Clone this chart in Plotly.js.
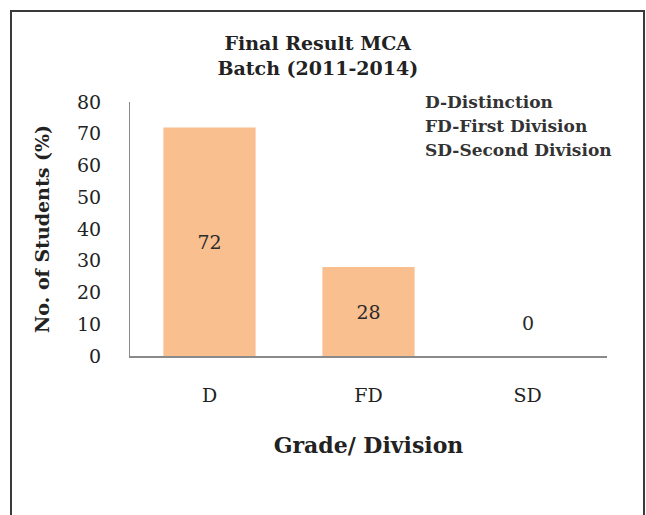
<!DOCTYPE html>
<html><head><meta charset="utf-8">
<script src="https://cdn.plot.ly/plotly-3.0.1.min.js"></script>
<style>
html,body{margin:0;padding:0;background:#fff;}
#wrap{position:relative;width:646px;height:515px;}
#chart{width:646px;height:515px;}
#frame{position:absolute;left:10px;top:10px;width:631px;height:520px;border:2px solid #3a3a3a;pointer-events:none;}
</style></head>
<body>
<div id="wrap"><div id="chart"></div><div id="frame"></div></div>
<script>
const categories = ['D', 'FD', 'SD'];
const values = [72, 28, 0];
const legendLines = ['D-Distinction', 'FD-First Division', 'SD-Second Division'];
const titleLines = ['Final Result MCA', 'Batch (2011-2014)'];

const serif = 'DejaVu Serif, serif';
const barColor = '#F9BF8F';

const trace = {
  type: 'bar',
  x: categories,
  y: values,
  marker: {color: barColor},
  text: values.map(v => v > 0 ? String(v) : ''),
  textposition: 'inside',
  insidetextanchor: 'middle',
  textfont: {family: serif, size: 19, color: '#2a2a2a'},
  cliponaxis: false,
  hoverinfo: 'skip'
};

const legendAnn = legendLines.map((t, i) => ({
  text: '<b>' + t + '</b>',
  xref: 'paper', yref: 'paper',
  x: (423 - 130) / 477, y: 1 - i * 0.094,
  xanchor: 'left', yanchor: 'middle',
  showarrow: false,
  font: {family: serif, size: 17, color: '#333'}
}));

// label for zero-height bars
const zeroAnn = categories.map((c, i) => values[i] === 0 ? ({
  text: String(values[i]), x: c, y: values[i], xref: 'x', yref: 'y',
  yanchor: 'bottom', yshift: 20, showarrow: false,
  font: {family: serif, size: 19, color: '#2a2a2a'}
}) : null).filter(Boolean);

const layout = {
  width: 646, height: 515,
  margin: {l: 130, r: 39, t: 102, b: 159},
  paper_bgcolor: '#fff', plot_bgcolor: '#fff',
  showlegend: false,
  bargap: 0.42,
  title: {
    text: '<b>' + titleLines.join('<br>') + '</b>',
    x: 0.492, xref: 'container', xanchor: 'center',
    y: 1 - 50 / 515, yref: 'container', yanchor: 'top',
    font: {family: serif, size: 19, color: '#222'}
  },
  xaxis: {
    showline: true, linecolor: '#8a8a8a', linewidth: 1.5,
    ticks: 'outside', ticklen: 22, tickcolor: 'rgba(0,0,0,0)',
    tickfont: {family: serif, size: 19, color: '#222'},
    title: {text: '<b>Grade/ Division</b>', standoff: 32, font: {family: serif, size: 22, color: '#222'}}
  },
  yaxis: {
    range: [0, 80], dtick: 10, showgrid: false, zeroline: false,
    showline: true, linecolor: '#8a8a8a', linewidth: 1,
    ticks: 'outside', ticklen: 24, tickcolor: 'rgba(0,0,0,0)',
    tickfont: {family: serif, size: 19, color: '#222'},
    title: {text: '<b>No. of Students (%)</b>', standoff: 22, font: {family: serif, size: 19, color: '#222'}}
  },
  annotations: legendAnn.concat(zeroAnn)
};

Plotly.newPlot('chart', [trace], layout, {displayModeBar: false, staticPlot: true});
</script>
</body></html>
